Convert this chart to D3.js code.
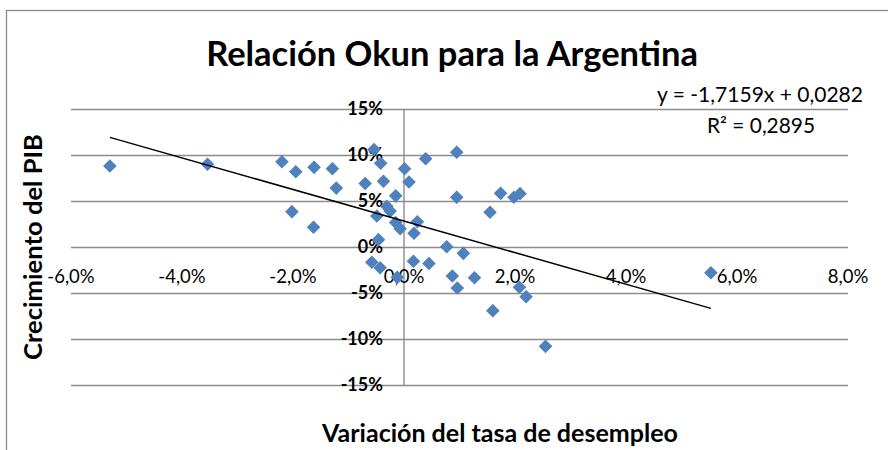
<!DOCTYPE html>
<html><head><meta charset="utf-8">
<script src="https://cdn.jsdelivr.net/npm/d3@7"></script>
<style>body{margin:0;background:#fff}svg{display:block}</style>
</head><body>
<svg id="c" width="888" height="450"></svg>
<script>
// Variación de la tasa de desempleo (x) y crecimiento del PIB (y), en %
const desempleo = [-5.30,-3.54,-2.20,-1.95,-1.62,-1.29,-1.22,-2.02,-1.63,-0.54,-0.42,-0.70,-0.37,0.01,0.09,0.39,0.95,-0.15,0.95,1.74,1.98,2.09,1.55,-0.31,-0.25,-0.49,-0.15,-0.07,0.24,0.18,-0.46,0.77,1.07,0.17,0.45,-0.58,-0.43,-0.12,0.87,0.96,1.27,2.08,2.20,1.60,2.55,5.53];
const pib       = [8.8,9.0,9.27,8.18,8.66,8.5,6.4,3.84,2.14,10.6,9.1,6.9,7.14,8.5,7.07,9.6,10.3,5.56,5.4,5.83,5.4,5.8,3.77,4.42,3.9,3.37,2.65,1.98,2.75,1.49,0.8,0.03,-0.69,-1.55,-1.8,-1.65,-2.25,-3.3,-3.15,-4.45,-3.35,-4.38,-5.4,-6.92,-10.8,-2.8];
const xTicks = [-6,-4,-2,0,2,4,6,8];
const xTickLabels = ["-6,0%","-4,0%","-2,0%","0,0%","2,0%","4,0%","6,0%","8,0%"];
const yTicks = [-15,-10,-5,0,5,10,15];
const yTickLabels = ["-15%","-10%","-5%","0%","5%","10%","15%"];
const trendSlope = -1.7159, trendIntercept = 0.0282;
const trendLabels = ["y = -1,7159x + 0,0282","R² = 0,2895"];
const titleText = "Relación Okun para la Argentina";
const xTitle = "Variación del tasa de desempleo";
const yTitle = "Crecimiento del PIB";

const svg = d3.select("#c");
const FONT = "Lato, 'Open Sans', sans-serif";
const x = d3.scaleLinear().domain([-6,8]).range([71,848]);
const y = d3.scaleLinear().domain([-15,15]).range([385,109]);
const grid = "#8c8c8c";

function fit(sel, w){
  const n = sel.node(); const fs = parseFloat(sel.attr("font-size"));
  const l = n.getComputedTextLength(); sel.attr("font-size", fs*w/l);
}

// chart border
svg.append("rect").attr("x",6.5).attr("y",10.5).attr("width",1000).attr("height",600)
  .attr("fill","#fff").attr("stroke","#8a8a8a").attr("stroke-width",1.3);

// horizontal gridlines
const yAxis = d3.axisLeft(y).tickValues(yTicks).tickSize(-(848-71)).tickFormat("");
const gy = svg.append("g").attr("transform","translate(71,0)").call(yAxis);
gy.select(".domain").remove();
gy.selectAll("line").attr("stroke",grid).attr("stroke-width",1.6);

// vertical axis line at x=0
svg.append("line").attr("x1",x(0)).attr("x2",x(0)).attr("y1",y(15)).attr("y2",y(-15))
  .attr("stroke",grid).attr("stroke-width",1.4);

// y tick labels
svg.append("g").selectAll("text").data(yTicks).join("text")
  .attr("x",x(0)-21).attr("y",d=>y(d)).attr("dy","0.35em")
  .attr("text-anchor","end").attr("font-family",FONT).attr("font-weight","bold")
  .attr("font-size",18).attr("fill","#000").text((d,i)=>yTickLabels[i]);

// x tick labels
svg.append("g").selectAll("text").data(xTicks).join("text")
  .attr("x",d=>x(d)).attr("y",y(0)+35.5)
  .attr("text-anchor","middle").attr("font-family",FONT)
  .attr("font-size",18.5).attr("fill","#000").text((d,i)=>xTickLabels[i]);

// points
const pts = desempleo.map((d,i)=>({x:d,y:pib[i]}));
const r = 6.8;
svg.append("g").selectAll("path").data(pts).join("path")
  .attr("transform",d=>`translate(${x(d.x)},${y(d.y)})`)
  .attr("d",`M0,${-r}L${r},0L0,${r}L${-r},0Z`).attr("fill","#4f81bd");

// trendline
const x0 = d3.min(desempleo), x1 = d3.max(desempleo);
const tl = [x0,x1].map(v=>({x:v, y:(trendSlope*v/100+trendIntercept)*100}));
svg.append("path").datum(tl).attr("d",d3.line().x(d=>x(d.x)).y(d=>y(d.y)))
  .attr("stroke","#000").attr("stroke-width",1.5).attr("fill","none");

// trend labels
const t1 = svg.append("text").attr("x",760).attr("y",101.5).attr("text-anchor","middle")
  .attr("font-family",FONT).attr("font-size",18).text(trendLabels[0]); fit(t1,206);
const t2 = svg.append("text").attr("x",761).attr("y",133).attr("text-anchor","middle")
  .attr("font-family",FONT).attr("font-size",18).text(trendLabels[1]); fit(t2,108);

// title
const tt = svg.append("text").attr("x",452).attr("y",65.5).attr("text-anchor","middle")
  .attr("font-family",FONT).attr("font-weight","bold").attr("font-size",30).text(titleText);
fit(tt,492);

// axis titles
const xt = svg.append("text").attr("x",500).attr("y",442).attr("text-anchor","middle")
  .attr("font-family",FONT).attr("font-weight","bold").attr("font-size",20).text(xTitle);
fit(xt,356);
const yt = svg.append("text").attr("transform","translate(41.5,247) rotate(-90)")
  .attr("text-anchor","middle").attr("font-family",FONT).attr("font-weight","bold")
  .attr("font-size",18).text(yTitle);
fit(yt,226);
</script>
</body></html>
